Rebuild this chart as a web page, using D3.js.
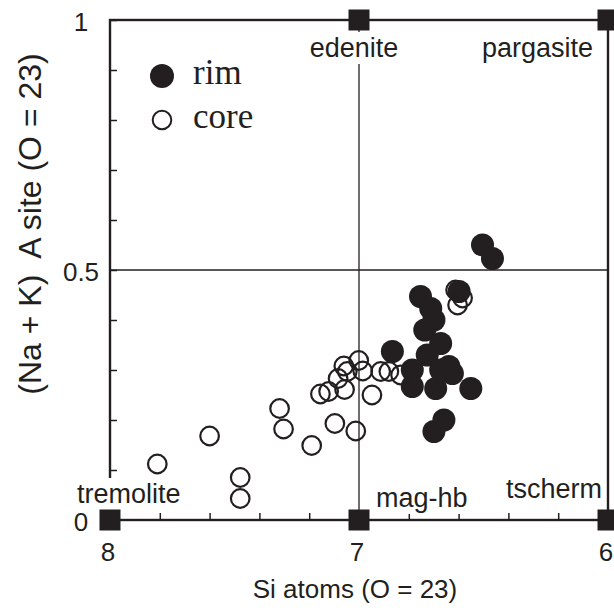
<!DOCTYPE html>
<html>
<head>
<meta charset="utf-8">
<script src="https://cdn.jsdelivr.net/npm/d3@7"></script>
<style>
  body { margin: 0; background: #fff; }
  svg { display: block; }
</style>
</head>
<body>
<svg id="chart" width="614" height="610"></svg>
<script>
// DATA
const rimSi = [6.504, 6.464, 6.753, 6.712, 6.699, 6.736, 6.598, 6.866, 6.672, 6.726,
  6.639, 6.625, 6.786, 6.786, 6.692, 6.551, 6.659, 6.699, 6.672];
const rimA = [0.55, 0.523, 0.447, 0.423, 0.40, 0.38, 0.457, 0.337, 0.353, 0.33,
  0.307, 0.293, 0.30, 0.267, 0.263, 0.263, 0.20, 0.177, 0.30];

const coreSi = [7.81, 7.60, 7.477, 7.477, 7.319, 7.303, 7.19, 7.155, 7.122, 7.097,
  7.084, 7.061, 7.058, 7.047, 7.013, 7.001, 6.985, 6.948, 6.913, 6.88,
  6.833, 6.612, 6.584, 6.604];
const coreA = [0.112, 0.168, 0.085, 0.043, 0.223, 0.182, 0.149, 0.252, 0.257, 0.193,
  0.283, 0.308, 0.261, 0.297, 0.178, 0.319, 0.298, 0.25, 0.297, 0.297,
  0.29, 0.46, 0.444, 0.43];

const endMembers = ["tremolite", "mag-hb", "tscherm", "edenite", "pargasite"];
const endSi = [8, 7, 6, 7, 6];
const endA = [0, 0, 0, 1, 1];

const xTicks = [8, 7.8, 7.6, 7.4, 7.2, 7, 6.8, 6.6, 6.4, 6.2, 6];
const yTicks = [0, 0.1, 0.2, 0.3, 0.4, 0.5, 0.6, 0.7, 0.8, 0.9, 1];
const xTickLabels = [8, 7, 6];
const yTickLabels = [0, 0.5, 1];
const legendNames = ["rim", "core"];

// CANVAS SETUP
const svg = d3.select("#chart");
const ink = "#231f20";
const sans = "'Liberation Sans', Arial, sans-serif";
const serif = "'Liberation Serif', 'Times New Roman', serif";

const x = d3.scaleLinear().domain([8, 6]).range([110, 608]);
const y = d3.scaleLinear().domain([0, 1]).range([520, 20]);

// frame
svg.append("rect")
  .attr("x", x(8)).attr("y", y(1))
  .attr("width", x(6) - x(8)).attr("height", y(0) - y(1))
  .attr("fill", "none").attr("stroke", ink).attr("stroke-width", 2.4);

// reference lines at Si = 7 and A = 0.5
svg.append("line")
  .attr("x1", x(7)).attr("x2", x(7)).attr("y1", y(0)).attr("y2", y(1))
  .attr("stroke", ink).attr("stroke-width", 1.3);
svg.append("line")
  .attr("x1", x(8)).attr("x2", x(6)).attr("y1", y(0.5)).attr("y2", y(0.5))
  .attr("stroke", ink).attr("stroke-width", 1.3);

// axes (inward ticks only)
const gx = svg.append("g")
  .attr("transform", `translate(0,${y(0)})`)
  .call(d3.axisBottom(x).tickValues(xTicks).tickSize(-7).tickFormat(""));
const gy = svg.append("g")
  .attr("transform", `translate(${x(8)},0)`)
  .call(d3.axisLeft(y).tickValues(yTicks).tickSize(-7).tickFormat(""));
[gx, gy].forEach((g) => {
  g.select(".domain").remove();
  g.selectAll("line").attr("stroke", ink).attr("stroke-width", 1.5);
});

// tick labels
svg.selectAll(".xlab").data(xTickLabels).join("text")
  .attr("x", (d) => x(d) - 2).attr("y", 561)
  .attr("text-anchor", "middle")
  .attr("font-family", sans).attr("font-size", 26).attr("fill", ink)
  .text((d) => d);
svg.selectAll(".ylab").data(yTickLabels).join("text")
  .attr("x", 81).attr("y", (d) => y(d) + 2).attr("dy", "0.35em")
  .attr("text-anchor", "middle")
  .attr("font-family", sans).attr("font-size", 26).attr("fill", ink)
  .text((d) => d);

// axis titles
svg.append("text")
  .attr("x", 355).attr("y", 598)
  .attr("text-anchor", "middle")
  .attr("font-family", sans).attr("font-size", 26).attr("fill", ink)
  .text("Si atoms (O = 23)");
svg.append("text")
  .attr("transform", "translate(41,224) rotate(-90)")
  .attr("text-anchor", "middle")
  .attr("font-family", sans).attr("font-size", 32).attr("fill", ink)
  .style("white-space", "pre")
  .text("(Na + K)  A site (O = 23)");

// end-member labels with white backing
const labelLayout = {
  "tremolite": { dx: -33, dy: -17, anchor: "start" },
  "mag-hb": { dx: 17, dy: -13, anchor: "start" },
  "tscherm": { dx: -6, dy: -22, anchor: "end" },
  "edenite": { dx: -5, dy: 37, anchor: "middle" },
  "pargasite": { dx: -15, dy: 37, anchor: "end" },
};
const members = endMembers.map((name, i) => ({ name, si: endSi[i], a: endA[i] }));

const labels = svg.append("g").selectAll("g").data(members).join("g");
labels.append("text")
  .attr("x", (d) => x(d.si) + labelLayout[d.name].dx)
  .attr("y", (d) => y(d.a) + labelLayout[d.name].dy)
  .attr("text-anchor", (d) => labelLayout[d.name].anchor)
  .attr("font-family", sans).attr("font-size", 27).attr("fill", ink)
  .text((d) => d.name);
labels.each(function () {
  const g = d3.select(this);
  const b = g.select("text").node().getBBox();
  g.insert("rect", "text")
    .attr("x", b.x - 2).attr("y", b.y - 1)
    .attr("width", b.width + 4).attr("height", b.height + 2)
    .attr("fill", "#fff");
});

// end-member squares
const sq = 21;
svg.append("g").selectAll("rect").data(members).join("rect")
  .attr("x", (d) => x(d.si) - sq / 2)
  .attr("y", (d) => y(d.a) - sq / 2)
  .attr("width", sq).attr("height", sq)
  .attr("fill", ink);

// POINTS
const rim = rimSi.map((s, i) => ({ si: s, a: rimA[i] }));
const core = coreSi.map((s, i) => ({ si: s, a: coreA[i] }));

svg.append("g").selectAll("circle").data(rim).join("circle")
  .attr("cx", (d) => x(d.si)).attr("cy", (d) => y(d.a))
  .attr("r", 11.5)
  .attr("fill", ink);

svg.append("g").selectAll("circle").data(core).join("circle")
  .attr("cx", (d) => x(d.si)).attr("cy", (d) => y(d.a))
  .attr("r", 9.3)
  .attr("fill", "none").attr("stroke", ink).attr("stroke-width", 2.2);

// LEGEND
const legend = svg.append("g").selectAll("g").data(legendNames).join("g")
  .attr("transform", (d, i) => `translate(162,${76 + i * 44})`);
legend.append("circle")
  .attr("r", (d, i) => (i === 0 ? 12 : 9.3))
  .attr("fill", (d, i) => (i === 0 ? ink : "none"))
  .attr("stroke", (d, i) => (i === 0 ? "none" : ink))
  .attr("stroke-width", 2);
legend.append("text")
  .attr("x", 31).attr("y", 8)
  .attr("font-family", serif).attr("font-size", 35).attr("fill", ink)
  .text((d) => d);
</script>
</body>
</html>
